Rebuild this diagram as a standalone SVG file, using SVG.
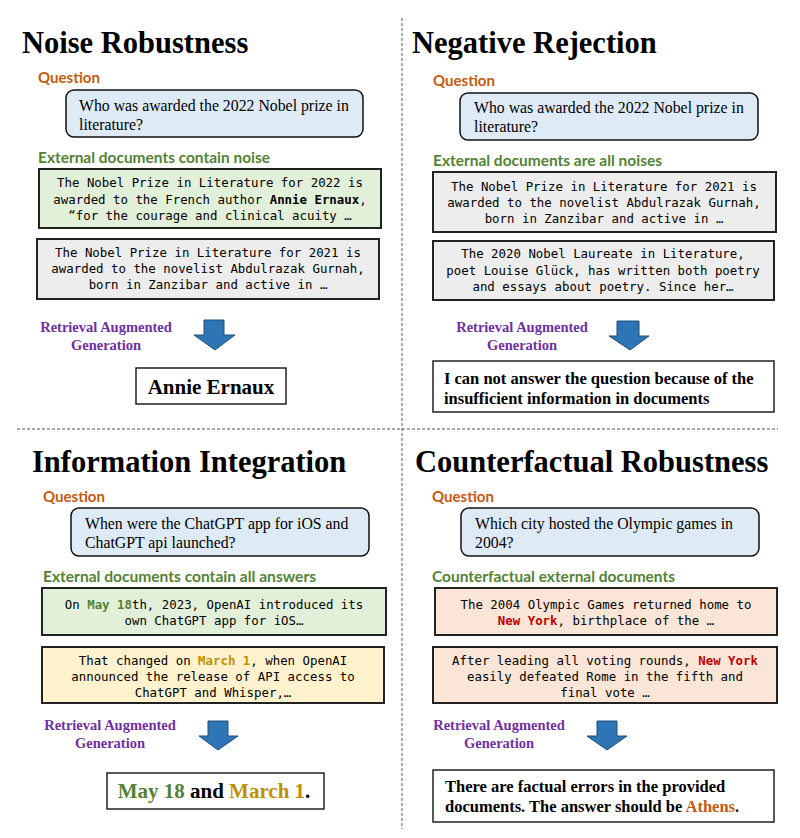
<svg xmlns="http://www.w3.org/2000/svg" width="800" height="838" viewBox="0 0 800 838">
<style>
.title{font-family:"Liberation Serif",serif;font-weight:bold;font-size:30.5px;fill:#000}
.lbl{font-family:"Lato","Open Sans",sans-serif;font-weight:bold;font-size:16px}
.q{fill:#C55A11}
.g{fill:#548235}
.qbox{fill:#DEEBF7;stroke:#111;stroke-width:1.5}
.qt{font-family:"Liberation Serif",serif;font-size:15.8px;fill:#000}
.doc{stroke:#222;stroke-width:2}
.dg{fill:#E2F0D9}.dgr{fill:#EDEDED}.dy{fill:#FFF2CC}.dp{fill:#FBE5D6}
.mono{font-family:"DejaVu Sans Mono","Liberation Mono",monospace;font-size:12.4px;fill:#000;text-anchor:middle}
.rag{font-family:"Liberation Serif",serif;font-weight:bold;font-size:14.5px;fill:#7030A0;text-anchor:middle}
.arrow{fill:#2E75B6;stroke:#1F4E79;stroke-width:1}
.abox{fill:#fff;stroke:#222;stroke-width:1.5}
.ans{font-family:"Liberation Serif",serif;font-weight:bold;fill:#000}
.div{stroke:#555;stroke-width:1;stroke-dasharray:3 2;fill:none}
</style>
<g id="dividers">
<line class="div" x1="402" y1="18" x2="402" y2="829"/>
<line class="div" x1="17" y1="429" x2="778" y2="429"/>
</g>
<g id="noise-robustness">
<text class="title" x="22" y="53">Noise Robustness</text>
<text class="lbl q" x="38" y="83" textLength="62" lengthAdjust="spacingAndGlyphs">Question</text>
<rect class="qbox" x="66" y="90" width="297" height="47" rx="8"/>
<text class="qt" x="79" y="111">Who was awarded the 2022 Nobel prize in</text>
<text class="qt" x="79" y="130">literature?</text>
<text class="lbl g" x="38" y="163" textLength="232" lengthAdjust="spacingAndGlyphs">External documents contain noise</text>
<rect class="doc dg" x="39" y="169" width="342" height="59"/>
<text class="mono" x="210" y="187">The Nobel Prize in Literature for 2022 is</text>
<text class="mono" x="210" y="204">awarded to the French author <tspan font-weight="bold">Annie Ernaux</tspan>,</text>
<text class="mono" x="210" y="220">“for the courage and clinical acuity …</text>
<rect class="doc dgr" x="37" y="239" width="342" height="60"/>
<text class="mono" x="208" y="257">The Nobel Prize in Literature for 2021 is</text>
<text class="mono" x="208" y="273">awarded to the novelist Abdulrazak Gurnah,</text>
<text class="mono" x="208" y="289">born in Zanzibar and active in …</text>
<text class="rag" x="106" y="332">Retrieval Augmented</text>
<text class="rag" x="106" y="350">Generation</text>
<rect class="abox" x="136" y="368" width="150" height="36"/>
<text class="ans" x="211" y="394" font-size="21" text-anchor="middle">Annie Ernaux</text>
</g>
<g id="negative-rejection">
<text class="title" x="412" y="53">Negative Rejection</text>
<text class="lbl q" x="433" y="86" textLength="62" lengthAdjust="spacingAndGlyphs">Question</text>
<rect class="qbox" x="460" y="93" width="298" height="47" rx="8"/>
<text class="qt" x="474" y="113">Who was awarded the 2022 Nobel prize in</text>
<text class="qt" x="474" y="132">literature?</text>
<text class="lbl g" x="433" y="166" textLength="229" lengthAdjust="spacingAndGlyphs">External documents are all noises</text>
<rect class="doc dgr" x="433" y="172" width="343" height="60"/>
<text class="mono" x="604" y="191">The Nobel Prize in Literature for 2021 is</text>
<text class="mono" x="604" y="207">awarded to the novelist Abdulrazak Gurnah,</text>
<text class="mono" x="604" y="223">born in Zanzibar and active in …</text>
<rect class="doc dgr" x="433" y="241" width="341" height="59"/>
<text class="mono" x="603" y="258">The 2020 Nobel Laureate in Literature,</text>
<text class="mono" x="603" y="275">poet Louise Glück, has written both poetry</text>
<text class="mono" x="603" y="291">and essays about poetry. Since her…</text>
<text class="rag" x="522" y="332">Retrieval Augmented</text>
<text class="rag" x="522" y="350">Generation</text>
<rect class="abox" x="433" y="361" width="341" height="51"/>
<text class="ans" x="444" y="384" font-size="16.5">I can not answer the question because of the</text>
<text class="ans" x="444" y="404" font-size="16.5">insufficient information in documents</text>
</g>
<g id="information-integration">
<text class="title" x="32" y="472">Information Integration</text>
<text class="lbl q" x="43" y="502" textLength="62" lengthAdjust="spacingAndGlyphs">Question</text>
<rect class="qbox" x="71" y="508" width="298" height="48" rx="8"/>
<text class="qt" x="85" y="529">When were the ChatGPT app for iOS and</text>
<text class="qt" x="85" y="548">ChatGPT api launched?</text>
<text class="lbl g" x="43" y="582" textLength="273" lengthAdjust="spacingAndGlyphs">External documents contain all answers</text>
<rect class="doc dg" x="42" y="588" width="344" height="47"/>
<text class="mono" x="214" y="609">On <tspan fill="#548235" font-weight="bold">May 18</tspan>th, 2023, OpenAI introduced its</text>
<text class="mono" x="214" y="625">own ChatGPT app for iOS…</text>
<rect class="doc dy" x="42" y="647" width="342" height="56"/>
<text class="mono" x="213" y="665">That changed on <tspan fill="#BF9000" font-weight="bold">March 1</tspan>, when OpenAI</text>
<text class="mono" x="213" y="681">announced the release of API access to</text>
<text class="mono" x="213" y="697">ChatGPT and Whisper,…</text>
<text class="rag" x="110" y="730">Retrieval Augmented</text>
<text class="rag" x="110" y="748">Generation</text>
<rect class="abox" x="107" y="773" width="217" height="36"/>
<text class="ans" x="214" y="798" font-size="21" text-anchor="middle"><tspan fill="#548235">May 18</tspan> and <tspan fill="#BF9000">March 1</tspan>.</text>
</g>
<g id="counterfactual-robustness">
<text class="title" x="415" y="472">Counterfactual Robustness</text>
<text class="lbl q" x="432" y="502" textLength="62" lengthAdjust="spacingAndGlyphs">Question</text>
<rect class="qbox" x="461" y="508" width="298" height="48" rx="8"/>
<text class="qt" x="475" y="529">Which city hosted the Olympic games in</text>
<text class="qt" x="475" y="548">2004?</text>
<text class="lbl g" x="432" y="582" textLength="243" lengthAdjust="spacingAndGlyphs">Counterfactual external documents</text>
<rect class="doc dp" x="435" y="588" width="342" height="47"/>
<text class="mono" x="606" y="609">The 2004 Olympic Games returned home to</text>
<text class="mono" x="606" y="625"><tspan fill="#C00000" font-weight="bold">New York</tspan>, birthplace of the …</text>
<rect class="doc dp" x="433" y="647" width="344" height="56"/>
<text class="mono" x="605" y="665">After leading all voting rounds, <tspan fill="#C00000" font-weight="bold">New York</tspan></text>
<text class="mono" x="605" y="681">easily defeated Rome in the fifth and</text>
<text class="mono" x="605" y="697">final vote …</text>
<text class="rag" x="499" y="730">Retrieval Augmented</text>
<text class="rag" x="499" y="748">Generation</text>
<rect class="abox" x="433" y="770" width="341" height="52"/>
<text class="ans" x="445" y="792" font-size="16.5">There are factual errors in the provided</text>
<text class="ans" x="445" y="812" font-size="16.5">documents. The answer should be <tspan fill="#C55A11">Athens</tspan>.</text>
</g>
<g id="connectors">
<polygon class="arrow" points="204,320 224,320 224,335 235,335 215,350 194,335 204,335"/>
<polygon class="arrow" points="617,321 639,321 639,336 649,336 630,350 609,336 617,336"/>
<polygon class="arrow" points="208,721 228,721 228,736 238,736 218,750 199,736 208,736"/>
<polygon class="arrow" points="597,721 617,721 617,736 627,736 607,750 587,736 597,736"/>
</g>
</svg>
